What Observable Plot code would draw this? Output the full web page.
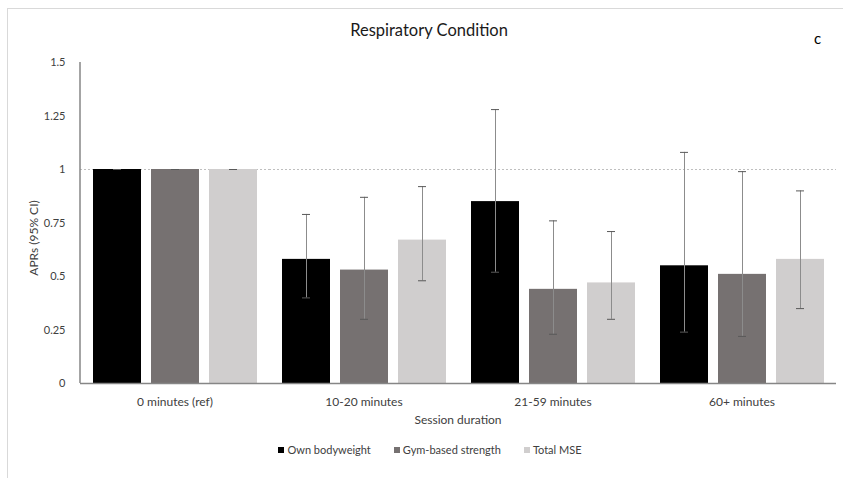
<!DOCTYPE html>
<html>
<head>
<meta charset="utf-8">
<script src="https://cdn.jsdelivr.net/npm/d3@7"></script>
<script src="https://cdn.jsdelivr.net/npm/@observablehq/plot@0.6"></script>
<style>
  html, body { margin: 0; padding: 0; background: #fff; }
  body { font-family: Lato, "Liberation Sans", sans-serif; }
  #wrap { position: relative; width: 843px; height: 478px; overflow: hidden; }
  #frame { position: absolute; left: 7px; top: 8px; width: 900px; height: 500px;
           border-top: 1px solid #d9d9d9; border-left: 1px solid #d9d9d9; }
  #title { position: absolute; top: 20px; left: 0; width: 858px; text-align: center;
           font-size: 16.5px; color: #1a1a1a; }
  #tag { position: absolute; top: 29px; left: 814px; font-size: 15px; color: #000; }
  #ylab { position: absolute; left: 33px; top: 238px; transform: translate(-50%, -50%) rotate(-90deg);
          font-size: 12px; color: #404040; white-space: nowrap; }
  #xlab { position: absolute; top: 412px; left: 80px; width: 756px; text-align: center;
          font-size: 12px; color: #404040; }
  #legend { position: absolute; top: 443px; left: 0; width: 860px; display: flex;
            justify-content: center; font-size: 11px; color: #404040; }
  #legend .item { display: flex; align-items: center; margin: 0 11.5px; }
  #legend .sw { width: 6px; height: 6px; margin-right: 3px; }
  #chart { position: absolute; left: 0; top: 0; }
</style>
</head>
<body>
<div id="wrap">
  <div id="frame"></div>
  <div id="chart"></div>
  <div id="title">Respiratory Condition</div>
  <div id="tag">c</div>
  <div id="ylab">APRs (95% CI)</div>
  <div id="xlab">Session duration</div>
  <div id="legend"></div>
</div>
<script>
const categories = ["0 minutes (ref)", "10-20 minutes", "21-59 minutes", "60+ minutes"];
const series = ["Own bodyweight", "Gym-based strength", "Total MSE"];
const colors = ["#000000", "#767171", "#d0cece"];

const ownBodyweight   = [1, 0.58, 0.85, 0.55];
const ownBodyweightLo = [1, 0.40, 0.52, 0.24];
const ownBodyweightHi = [1, 0.79, 1.28, 1.08];

const gymStrength   = [1, 0.53, 0.44, 0.51];
const gymStrengthLo = [1, 0.30, 0.23, 0.22];
const gymStrengthHi = [1, 0.87, 0.76, 0.99];

const totalMSE   = [1, 0.67, 0.47, 0.58];
const totalMSELo = [1, 0.48, 0.30, 0.35];
const totalMSEHi = [1, 0.92, 0.71, 0.90];

const yTicks = [0, 0.25, 0.5, 0.75, 1, 1.25, 1.5];
const refLine = [1];

const values = [ownBodyweight, gymStrength, totalMSE];
const lows = [ownBodyweightLo, gymStrengthLo, totalMSELo];
const highs = [ownBodyweightHi, gymStrengthHi, totalMSEHi];

const data = [];
categories.forEach((c, i) => {
  series.forEach((s, j) => {
    data.push({cat: c, series: s, value: values[j][i], lo: lows[j][i], hi: highs[j][i]});
  });
});

const plot = Plot.plot({
  width: 843,
  height: 430,
  marginLeft: 80,
  marginRight: 7,
  marginTop: 62,
  marginBottom: 47,
  style: {fontFamily: "Lato, 'Liberation Sans', sans-serif", fontSize: "11px", color: "#404040", background: "transparent"},
  fx: {domain: categories, padding: 0, axis: "bottom", tickSize: 0, tickPadding: 14, label: null},
  x: {domain: series, paddingInner: 10 / 58, paddingOuter: 12.5 / 58, axis: null},
  y: {domain: [0, 1.5], ticks: yTicks, tickSize: 0, tickPadding: 15, label: null,
      tickFormat: d => String(d)},
  color: {domain: series, range: colors},
  marks: [
    Plot.ruleY(refLine, {stroke: "#bfbfbf", strokeDasharray: "2,2", strokeWidth: 1}),
    Plot.barY(data, {fx: "cat", x: "series", y: "value", fill: "series"}),
    Plot.ruleX(data, {fx: "cat", x: "series", y1: "lo", y2: "hi", stroke: "#8c8c8c", strokeWidth: 1}),
    Plot.tickY(data, {fx: "cat", x: "series", y: "lo", stroke: "#595959", strokeWidth: 1, insetLeft: 20, insetRight: 20}),
    Plot.tickY(data, {fx: "cat", x: "series", y: "hi", stroke: "#595959", strokeWidth: 1, insetLeft: 20, insetRight: 20}),
    Plot.ruleY([0], {stroke: "#868686", strokeWidth: 1.5})
  ]
});

d3.select(plot).selectAll("g[aria-label='fx-axis tick label']")
  .attr("font-size", "12px");

// vertical y-axis line using the plot's scales
const ys = plot.scale("y");
const fxs = plot.scale("fx");
d3.select(plot).append("line")
  .attr("x1", fxs.range[0]).attr("x2", fxs.range[0])
  .attr("y1", ys.apply(yTicks[yTicks.length - 1])).attr("y2", ys.apply(0))
  .attr("stroke", "#868686").attr("stroke-width", 1.5);

document.getElementById("chart").appendChild(plot);

// legend
const lg = d3.select("#legend");
series.forEach((s, i) => {
  const it = lg.append("div").attr("class", "item");
  it.append("div").attr("class", "sw").style("background", colors[i]);
  it.append("span").text(s);
});
</script>
</body>
</html>
